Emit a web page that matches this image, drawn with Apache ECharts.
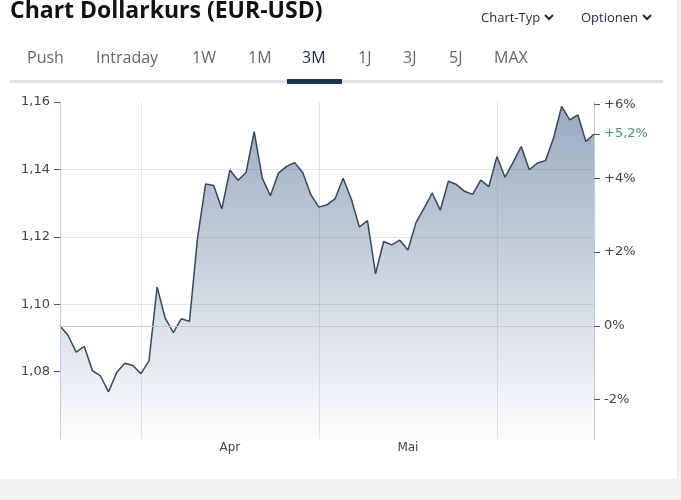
<!DOCTYPE html>
<html>
<head>
<meta charset="utf-8">
<script src="https://cdn.jsdelivr.net/npm/echarts@6/dist/echarts.min.js"></script>
<style>
  html, body { margin: 0; padding: 0; background: #ffffff; }
  #chart { width: 681px; height: 500px; }
</style>
</head>
<body>
<div id="chart"></div>
<script>
// ---- data ----
const values = [
  1.0936, 1.0907, 1.0858, 1.0875, 1.0803, 1.0787, 1.0740, 1.0797, 1.0825, 1.0818,
  1.0794, 1.0832, 1.1051, 1.0959, 1.0916, 1.0957, 1.0949, 1.1197, 1.1357, 1.1352,
  1.1283, 1.1398, 1.1368, 1.1391, 1.1512, 1.1374, 1.1322, 1.1389, 1.1409, 1.1420,
  1.1391, 1.1325, 1.1288, 1.1295, 1.1313, 1.1374, 1.1312, 1.1229, 1.1248, 1.1090,
  1.1186, 1.1176, 1.1190, 1.1161, 1.1242, 1.1285, 1.1330, 1.1279, 1.1365, 1.1355,
  1.1335, 1.1326, 1.1368, 1.1349, 1.1438, 1.1377, 1.1421, 1.1468, 1.1399, 1.1419,
  1.1426, 1.1493, 1.1587, 1.1547, 1.1562, 1.1483, 1.1505
];
const xCategories = values.map((_, i) => String(i + 1)); // trading days
const monthNames = ['Apr', 'Mai'];
const monthLabelIdx = [21, 43];
const monthStartIdx = [10, 32, 54];
const yMin = 1.06, yMax = 1.16, yStep = 0.02;
const leftTicks = [1.08, 1.10, 1.12, 1.14, 1.16];
const pctTicks = [-2, 0, 2, 4, 6];
const tabs = ['Push', 'Intraday', '1W', '1M', '3M', '1J', '3J', '5J', 'MAX'];
const activeTab = '3M';

// ---- derived ----
const base = values[0];
const pctMin = (yMin / base - 1) * 100;
const pctMax = (yMax / base - 1) * 100;
const lastPct = (values[values.length - 1] / base - 1) * 100;

const chart = echarts.init(document.getElementById('chart'), null, { renderer: 'canvas' });

const navy = '#1c2b41';
const labelFont = 'DejaVu Sans';
const gridColor = 'rgba(90,105,125,0.17)';

const tabX = [27, 96, 192, 248, 302, 358, 403, 449, 494];
const graphics = [
  { type: 'text', left: 10, top: 0, style: { text: 'Chart Dollarkurs (EUR-USD)', font: 'bold 23px "Open Sans"', fill: '#111' } },
  { type: 'text', x: 481, y: 18, style: { text: 'Chart-Typ', font: '13px "Open Sans"', fill: navy, verticalAlign: 'middle' } },
  { type: 'polyline', shape: { points: [[545, 15], [549, 19], [553, 15]] }, style: { stroke: navy, lineWidth: 2, fill: null } },
  { type: 'text', x: 581, y: 18, style: { text: 'Optionen', font: '13px "Open Sans"', fill: navy, verticalAlign: 'middle' } },
  { type: 'polyline', shape: { points: [[643, 15], [647, 19], [651, 15]] }, style: { stroke: navy, lineWidth: 2, fill: null } },
  { type: 'rect', shape: { x: 10, y: 80, width: 653, height: 3 }, style: { fill: '#dde0e4' } },
  { type: 'rect', shape: { x: 287, y: 79, width: 55, height: 5 }, style: { fill: '#1f3550' } },
  { type: 'rect', shape: { x: 0, y: 479, width: 681, height: 21 }, style: { fill: '#eef0f2' } },
  { type: 'rect', shape: { x: 0, y: 496, width: 681, height: 1 }, style: { fill: '#f8f9fa' } },
  { type: 'line', shape: { x1: 677.5, y1: 0, x2: 677.5, y2: 479 }, style: { stroke: '#e4e6e8', lineWidth: 1 } },
  { type: 'rect', shape: { x: 678, y: 0, width: 3, height: 479 }, style: { fill: '#f3f4f5' } }
];
tabs.forEach((t, i) => {
  graphics.push({ type: 'text', x: tabX[i], y: 58, style: { text: t, font: '16px "Open Sans"', fill: t === activeTab ? navy : '#666', verticalAlign: 'middle' } });
});

const option = {
  animation: false,
  backgroundColor: '#ffffff',
  grid: { left: 60, right: 87, top: 102, bottom: 61, containLabel: false },
  graphic: graphics,
  xAxis: {
    type: 'category',
    data: xCategories,
    boundaryGap: false,
    z: 3,
    axisLine: { show: true, lineStyle: { color: '#c6c9cd' } },
    axisTick: { show: false },
    axisLabel: {
      interval: (i) => monthLabelIdx.includes(i),
      formatter: (v, i) => { const k = monthLabelIdx.indexOf(i); return k >= 0 ? monthNames[k] : ''; },
      color: '#444', fontFamily: labelFont, fontSize: 12, margin: 3
    },
    splitLine: { show: true, interval: (i) => monthStartIdx.includes(i), lineStyle: { color: gridColor } }
  },
  yAxis: [
    {
      type: 'value', position: 'left', min: yMin, max: yMax, interval: yStep,
      z: 3,
      axisLine: { show: true, lineStyle: { color: '#c6c9cd' } },
      axisTick: { show: true, length: 6, customValues: leftTicks, lineStyle: { color: '#555' } },
      axisLabel: {
        customValues: leftTicks,
        formatter: (v) => v.toFixed(2).replace('.', ','),
        color: '#444', fontFamily: labelFont, fontSize: 13, margin: 10
      },
      splitLine: { show: true, showMinLine: false, showMaxLine: false, lineStyle: { color: gridColor } }
    },
    {
      type: 'value', position: 'right', min: pctMin, max: pctMax,
      z: 3,
      axisLine: { show: true, lineStyle: { color: '#c6c9cd' } },
      axisTick: { show: true, length: 6, customValues: pctTicks.concat([lastPct]), lineStyle: { color: '#555' } },
      axisLabel: {
        customValues: pctTicks.concat([lastPct]),
        formatter: (v) => {
          if (Math.abs(v - lastPct) < 1e-9) return '{g|+' + v.toFixed(1).replace('.', ',') + '%}';
          const r = Math.round(v);
          return (r > 0 ? '+' : '') + r + '%';
        },
        rich: { g: { color: '#3f9a62', fontFamily: labelFont, fontSize: 13 } },
        color: '#444', fontFamily: labelFont, fontSize: 13, margin: 10
      },
      splitLine: { show: false }
    }
  ],
  series: [{
    type: 'line',
    data: values,
    yAxisIndex: 0,
    symbol: 'none',
    smooth: false,
    z: 2,
    lineStyle: { color: '#34475e', width: 1.5 },
    areaStyle: {
      color: new echarts.graphic.LinearGradient(0, 0, 0, 1, [
        { offset: 0, color: 'rgba(74,104,140,0.8)' },
        { offset: 1, color: 'rgba(74,104,140,0.02)' }
      ])
    }
  }]
};
chart.setOption(option);
</script>
</body>
</html>
